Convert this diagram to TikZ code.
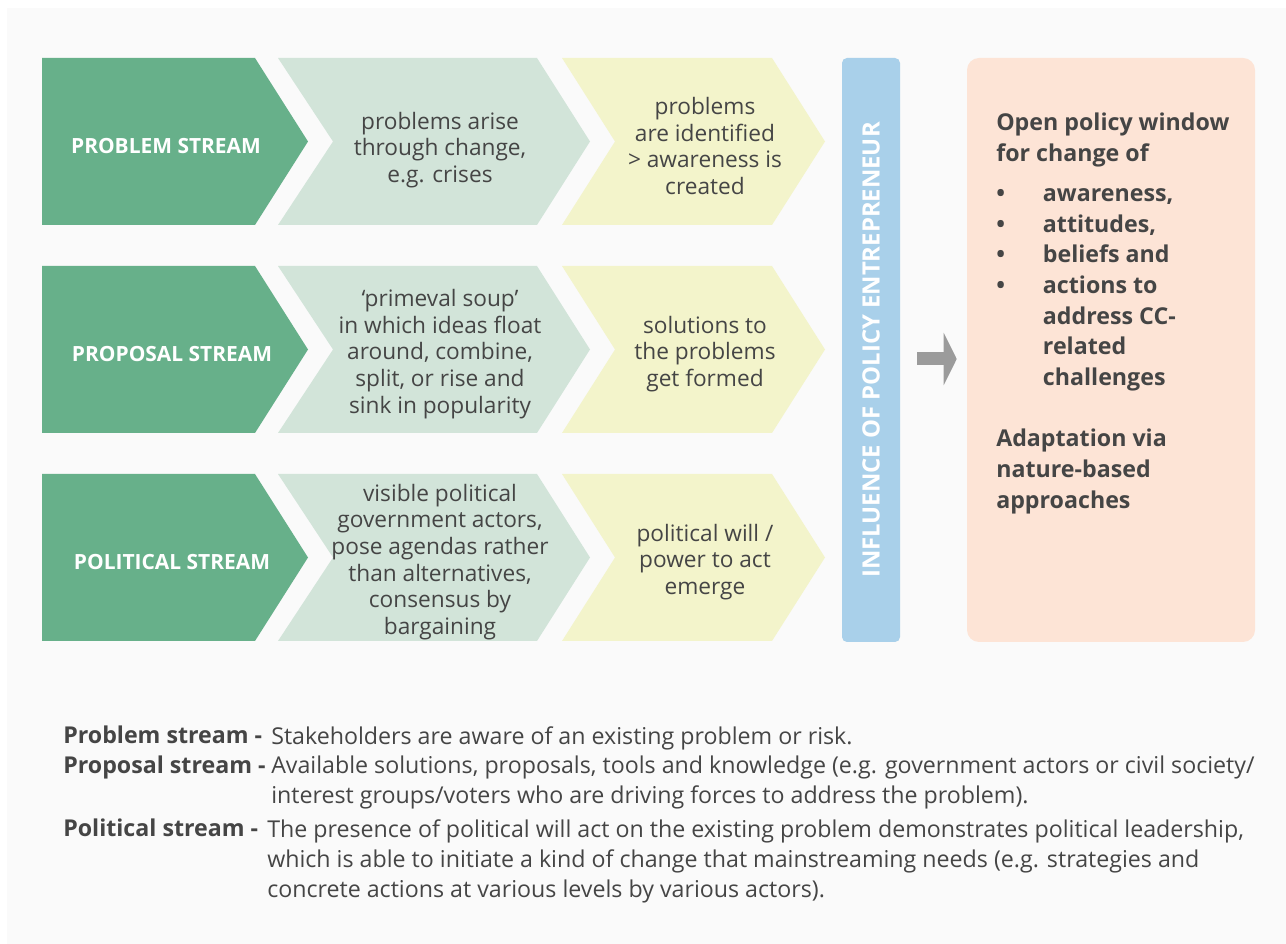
\documentclass[tikz,border=0pt]{standalone}
\usepackage{fontspec}
\setmainfont{Open Sans}
\usetikzlibrary{arrows.meta,positioning}

\definecolor{streamgreen}{HTML}{67B08A}
\definecolor{soupgreen}{HTML}{D2E4D9}
\definecolor{paleyellow}{HTML}{F3F4CB}
\definecolor{entrblue}{HTML}{A9D0EA}
\definecolor{windowpeach}{HTML}{FDE4D6}
\definecolor{textgrey}{HTML}{454545}
\definecolor{arrowgrey}{HTML}{9B9B9B}
\definecolor{pagegrey}{HTML}{FAFAFA}

\newcommand\pxu{0.75pt}
% fill, left x, shoulder x, top y, notch depth
\newcommand\chevron[5]{%
  \fill[#1] (#2,#4) -- (#3,#4) -- (#3+53,#4+83.5) -- (#3,#4+167)
    -- (#2,#4+167) -- (#2+#5,#4+83.5) -- cycle;}
\newcommand\bul{\makebox[35pt][l]{\textbullet}}

\tikzset{
  streamlabel/.style={font=\fontsize{15.7}{18}\selectfont\bfseries, text=white, inner sep=0},
  chevtext/.style={font=\fontsize{17}{20}\selectfont, text=textgrey, align=center, inner sep=0},
  barlabel/.style={fill=entrblue, rounded corners=5*\pxu, font=\fontsize{17.9}{20}\selectfont\bfseries,
    text=white, minimum width=584*\pxu, minimum height=58*\pxu, inner sep=0},
  windowbox/.style={fill=windowpeach, rounded corners=12*\pxu, minimum width=288*\pxu,
    minimum height=584*\pxu, inner sep=0},
  windowtext/.style={font=\fontsize{17.4}{23}\selectfont\bfseries, text=textgrey, align=left,
    inner sep=0, anchor=north west},
  policyarrow/.style={draw=arrowgrey, line width=9.75pt, -{Triangle[length=9.75pt, width=39pt]}},
  keylabel/.style={font=\fontsize{17.4}{22.5}\selectfont\bfseries, text=textgrey, inner sep=0,
    anchor=north west},
  keytext/.style={font=\fontsize{17.4}{22.5}\selectfont, text=textgrey, align=left, inner sep=0,
    anchor=north west}
}

\begin{document}
\begin{tikzpicture}[x=\pxu, y=-\pxu]
\useasboundingbox (0,0) rectangle (1286,944);
\fill[white] (0,0) rectangle (1286,944);
\fill[pagegrey] (7,8) rectangle (1286,944);

% the three streams
\foreach \top in {58,266,474}{
  \chevron{streamgreen}{42}{255}{\top}{0}
  \chevron{soupgreen}{278}{537}{\top}{55}
  \chevron{paleyellow}{562}{772}{\top}{53}
}

\node[streamlabel] (probstream) at (166,146) {PROBLEM STREAM};
\node[chevtext] (probarise) at (440,150) {problems arise\\through change,\\e.g. crises};
\node[chevtext] (probident) at (705,146) {problems\\are identified\\> awareness is\\created};

\node[streamlabel] (propstream) at (172,354) {PROPOSAL STREAM};
\node[chevtext] (propsoup) at (440,354) {‘primeval soup’\\in which ideas float\\around, combine,\\split, or rise and\\sink in popularity};
\node[chevtext] (propformed) at (705,354) {solutions to\\the problems\\get formed};

\node[streamlabel] (polstream) at (172,562) {POLITICAL STREAM};
\node[chevtext] (polactors) at (440,562) {visible political\\government actors,\\pose agendas rather\\than alternatives,\\consensus by\\bargaining};
\node[chevtext] (polwill) at (705,562) {political will /\\power to act\\emerge};

% entrepreneur bar and policy window
\node[barlabel, rotate=90] (infl) at (871,350) {INFLUENCE OF POLICY ENTREPRENEUR};
\node[windowbox] (window) at (1111,350) {};
\coordinate (arrowlevel) at (0,359);
\draw[policyarrow] ([xshift=17*\pxu]infl.south |- arrowlevel) -- ([xshift=-10*\pxu]window.west |- arrowlevel);

\node[windowtext] (windowhead) at (996,113) {Open policy window\\for change of\\[7pt]
  \bul awareness,\\ \bul attitudes,\\ \bul beliefs and\\ \bul actions to\\
  \hspace*{35pt}address CC-\\ \hspace*{35pt}related\\ \hspace*{35pt}challenges\\[23pt]
  Adaptation via\\nature-based\\approaches};

% key
\node[keylabel] (probkey) at (63,726) {Problem stream -};
\node[keytext] (probdesc) at (271,726) {Stakeholders are aware of an existing problem or risk.};
\node[keylabel] (propkey) at (63,756) {Proposal stream -};
\node[keytext] (propdesc) at (271,756) {Available solutions, proposals, tools and knowledge (e.g. government actors or civil society/\\interest groups/voters who are driving forces to address the problem).};
\node[keylabel] (polkey) at (63,819) {Political stream -};
\node[keytext] (poldesc) at (267,819) {The presence of political will act on the existing problem demonstrates political leadership,\\which is able to initiate a kind of change that mainstreaming needs (e.g. strategies and\\concrete actions at various levels by various actors).};
\end{tikzpicture}
\end{document}
